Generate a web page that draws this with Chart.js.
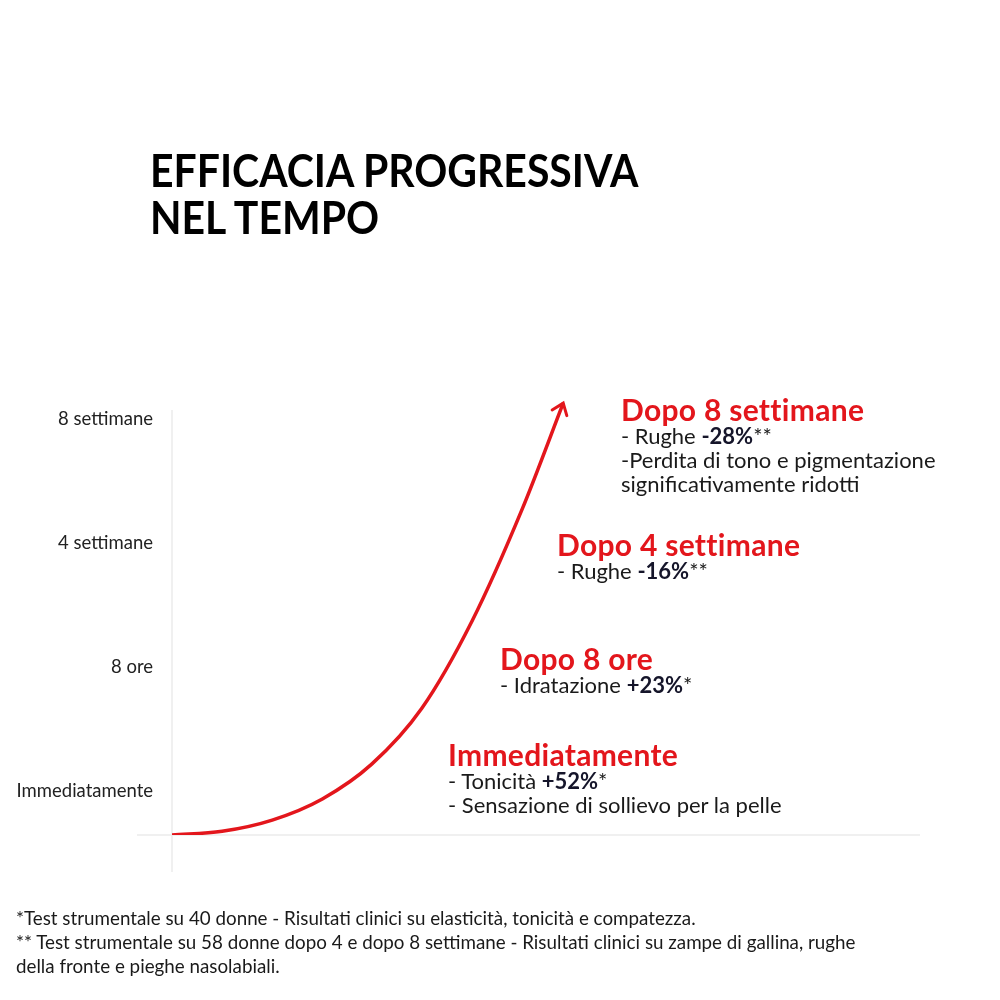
<!DOCTYPE html>
<html>
<head>
<meta charset="utf-8">
<script src="https://cdn.jsdelivr.net/npm/chart.js@4.4.1/dist/chart.umd.min.js"></script>
<style>
    html, body { margin: 0; padding: 0; background: #fff; }
    body { width: 1000px; height: 1000px; position: relative; overflow: hidden; font-family: "Lato", sans-serif; color: #1a1a1a; }
    #chart-wrap { position: absolute; left: 0; top: 0; width: 1000px; height: 1000px; }
    .title { position: absolute; left: 150px; top: 147px; font-size: 45px; font-weight: 700; line-height: 47px; color: #000; transform: scaleX(0.91); transform-origin: left top; white-space: nowrap; }
    .note { position: absolute; font-size: 22px; line-height: 24px; color: #1a1a1a; white-space: nowrap; }
    .note .head { color: #e3161c; font-weight: 700; font-size: 30px; line-height: 30px; letter-spacing: 0.3px; }
    .note b { font-weight: 700; color: #15152a; }
    .footer { position: absolute; left: 16px; top: 906px; font-size: 18.8px; line-height: 24px; color: #1a1a1a; white-space: nowrap; }
</style>
</head>
<body>
<div id="chart-wrap"><canvas id="curve-chart" width="1000" height="1000"></canvas></div>

<div class="title">EFFICACIA PROGRESSIVA<br>NEL TEMPO</div>

<div class="note" style="left:621px; top:394px;">
    <div class="head">Dopo 8 settimane</div>
    - Rughe <b>-28%</b>**<br>-Perdita di tono e pigmentazione<br>significativamente ridotti
</div>
<div class="note" style="left:557px; top:529px;">
    <div class="head">Dopo 4 settimane</div>
    - Rughe <b>-16%</b>**
</div>
<div class="note" style="left:500px; top:643px;">
    <div class="head">Dopo 8 ore</div>
    - Idratazione <b>+23%</b>*
</div>
<div class="note" style="left:448px; top:739px;">
    <div class="head">Immediatamente</div>
    - Tonicità <b>+52%</b>*<br>- Sensazione di sollievo per la pelle
</div>

<div class="footer">*Test strumentale su 40 donne - Risultati clinici su elasticità, tonicità e compatezza.<br>** Test strumentale su 58 donne dopo 4 e dopo 8 settimane - Risultati clinici su zampe di gallina, rughe<br>della fronte e pieghe nasolabiali.</div>

<script>
// tick labels on the time axis, bottom to top
const timeLabels = ["Immediatamente", "8 ore", "4 settimane", "8 settimane"];
const timeTicks = [0.35, 1.35, 2.35, 3.35];

// points of the red efficacy curve
const curveX = [0, 6.7, 13.4, 20.1, 26.7, 33.4, 40.1, 46.8, 52.3];
const curveY = [0, 0.03, 0.12, 0.29, 0.57, 1.02, 1.72, 2.62, 3.475];

const RED = "#e3161c";

document.addEventListener("DOMContentLoaded", function () {
    drawCurve();
});

// thin grey axes, the vertical one runs a bit below the baseline
const axesPlugin = {
    id: "axesLines",
    beforeDatasetsDraw(chart) {
        const ctx = chart.ctx;
        const x = chart.scales.x;
        const y = chart.scales.y;
        const x0 = x.getPixelForValue(0);
        const y0 = y.getPixelForValue(0);
        ctx.save();
        ctx.strokeStyle = "#ececec";
        ctx.lineWidth = 1.5;
        ctx.beginPath();
        ctx.moveTo(x0, y.getPixelForValue(3.42));
        ctx.lineTo(x0, y0 + 37);
        ctx.moveTo(x0 - 35, y0);
        ctx.lineTo(x.getPixelForValue(100), y0);
        ctx.stroke();
        ctx.restore();
    }
};

// open arrow head at the end of the curve
const arrowPlugin = {
    id: "arrowHead",
    afterDatasetsDraw(chart) {
        const pts = chart.getDatasetMeta(0).data;
        const tip = pts[pts.length - 1];
        const prev = pts[pts.length - 2];
        const ang = Math.atan2(tip.y - prev.y, tip.x - prev.x);
        const len = 13;
        const ctx = chart.ctx;
        ctx.save();
        ctx.strokeStyle = RED;
        ctx.lineWidth = 3;
        ctx.lineCap = "round";
        ctx.beginPath();
        ctx.moveTo(tip.x + len * Math.cos(ang + Math.PI - 0.65), tip.y + len * Math.sin(ang + Math.PI - 0.65));
        ctx.lineTo(tip.x, tip.y);
        ctx.lineTo(tip.x + len * Math.cos(ang + Math.PI + 0.65), tip.y + len * Math.sin(ang + Math.PI + 0.65));
        ctx.stroke();
        ctx.restore();
    }
};

function drawCurve() {
    const ctx = document.getElementById("curve-chart").getContext("2d");
    const points = curveX.map((v, i) => ({ x: v, y: curveY[i] }));

    new Chart(ctx, {
        type: "line",
        data: {
            datasets: [{
                data: points,
                borderColor: RED,
                borderWidth: 3.5,
                pointRadius: 0,
                fill: false,
                cubicInterpolationMode: "monotone"
            }]
        },
        options: {
            responsive: false,
            animation: false,
            layout: { padding: { left: 0, top: 400, right: 80, bottom: 165 } },
            plugins: { legend: { display: false }, tooltip: { enabled: false } },
            scales: {
                x: {
                    type: "linear",
                    min: 0,
                    max: 100,
                    display: false
                },
                y: {
                    type: "linear",
                    min: 0,
                    max: 3.5,
                    grid: { display: false },
                    border: { display: false },
                    afterFit: function (scale) { scale.width = 172; },
                    afterBuildTicks: function (scale) {
                        scale.ticks = timeTicks.map(v => ({ value: v }));
                    },
                    ticks: {
                        padding: 11,
                        color: "#222",
                        font: { family: "Lato", size: 18.5 },
                        callback: function (value) {
                            const i = timeTicks.indexOf(value);
                            return i >= 0 ? timeLabels[i] : "";
                        }
                    }
                }
            }
        },
        plugins: [axesPlugin, arrowPlugin]
    });
}
</script>
</body>
</html>
